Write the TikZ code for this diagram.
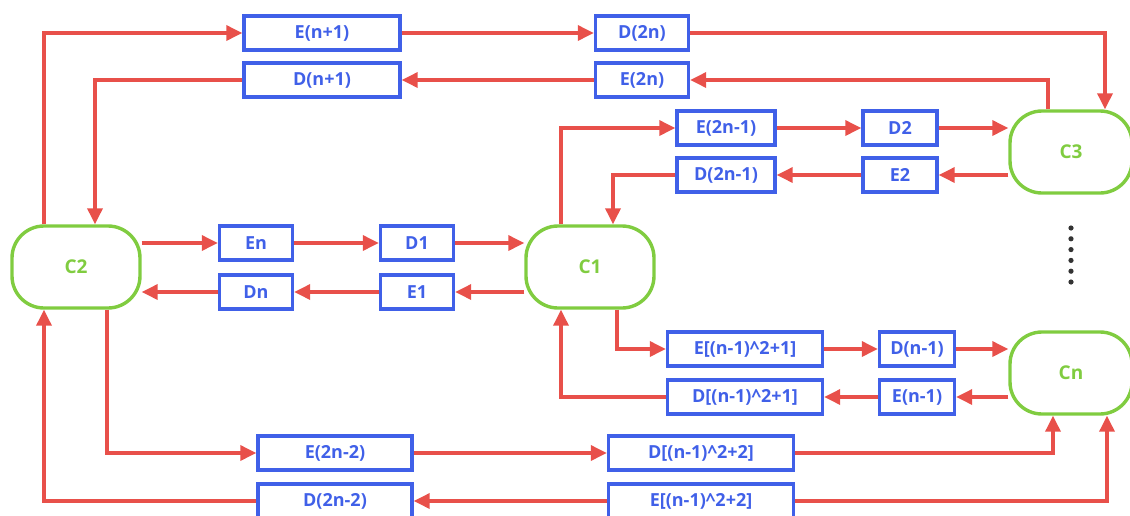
\documentclass[tikz,border=0pt]{standalone}
\usepackage{fontspec}
\setmainfont{Open Sans}
\usetikzlibrary{arrows.meta}
\definecolor{lred}{RGB}{232,80,74}
\definecolor{lblue}{RGB}{64,96,232}
\definecolor{lgreen}{RGB}{128,204,64}
\tikzset{
  bx/.style={draw=lblue, line width=3.4pt, text=lblue, font=\bfseries\fontsize{18}{18}\selectfont, minimum height=34pt, inner sep=0pt},
  cb/.style={draw=lgreen, line width=3.4pt, text=lgreen, font=\bfseries\fontsize{19}{19}\selectfont, rounded corners=32pt, minimum width=128pt, minimum height=82pt, inner sep=0pt},
  ar/.style={draw=lred, line width=3.4pt, -{Triangle[length=16pt,width=15pt]}},
}
\begin{document}
\begin{tikzpicture}[x=1pt,y=-1pt]
\useasboundingbox (0,0) rectangle (1130,515);
% nodes
\node[bx, minimum width=156pt] (Enp) at (322,33) {E(n+1)};
\node[bx, minimum width=156pt] (Dnp) at (322,80) {D(n+1)};
\node[bx, minimum width=93pt] (Dtn) at (642,33) {D(2n)};
\node[bx, minimum width=93pt] (Etn) at (642,80) {E(2n)};
\node[bx, minimum width=98pt] (Etnm) at (726,128) {E(2n-1)};
\node[bx, minimum width=74pt] (Dtwo) at (900,128) {D2};
\node[bx, minimum width=98pt] (Dtnm) at (726,175) {D(2n-1)};
\node[bx, minimum width=74pt] (Etwo) at (900,175) {E2};
\node[cb, minimum width=122pt] (C3) at (1071,152) {C3};
\node[cb] (C2) at (76,267) {C2};
\node[cb] (C1) at (590,267) {C1};
\node[bx, minimum width=73pt] (En) at (256,243) {En};
\node[bx, minimum width=73pt] (Done) at (417,243) {D1};
\node[bx, minimum width=73pt] (Dn) at (256,292) {Dn};
\node[bx, minimum width=73pt] (Eone) at (417,292) {E1};
\node[bx, minimum width=155pt] (Esq) at (745,349) {E[(n-1)\^{}2+1]};
\node[bx, minimum width=75pt] (Dnm) at (917,349) {D(n-1)};
\node[bx, minimum width=155pt] (Dsq) at (745,397) {D[(n-1)\^{}2+1]};
\node[bx, minimum width=75pt] (Enm) at (917,397) {E(n-1)};
\node[cb, minimum width=122pt] (Cn) at (1071,373) {Cn};
\node[bx, minimum width=154pt] (Etnt) at (335,453) {E(2n-2)};
\node[bx, minimum width=185pt] (Dsqt) at (701,453) {D[(n-1)\^{}2+2]};
\node[bx, minimum width=154pt] (Dtnt) at (335,501) {D(2n-2)};
\node[bx, minimum width=185pt] (Esqt) at (701,501) {E[(n-1)\^{}2+2]};
% dots
\foreach \i in {0,...,5} \fill[black!80] (1071,228+\i*10.8) circle (2.6pt);
% connectors top loop
\draw[ar] ([xshift=-32pt]C2.north) |- (Enp.west);
\draw[ar] (Enp.east) -- (Dtn.west);
\draw[ar] (Dtn.east) -| ([xshift=34pt]C3.north);
\draw[ar] ([xshift=-23pt]C3.north) |- (Etn.east);
\draw[ar] (Etn.west) -- (Dnp.east);
\draw[ar] (Dnp.west) -| ([xshift=19pt]C2.north);
% middle
\draw[ar] (En.west -| C2.east) -- (En.west);
\draw[ar] (En.east) -- (Done.west);
\draw[ar] (Done.east) -- (Done.east -| C1.west);
\draw[ar] (Eone.east -| C1.west) -- (Eone.east);
\draw[ar] (Eone.west) -- (Dn.east);
\draw[ar] (Dn.west) -- (Dn.west -| C2.east);
% C1 - C3
\draw[ar] ([xshift=-29pt]C1.north) |- (Etnm.west);
\draw[ar] (Etnm.east) -- (Dtwo.west);
\draw[ar] (Dtwo.east) -- (Dtwo.east -| C3.west);
\draw[ar] (Etwo.east -| C3.west) -- (Etwo.east);
\draw[ar] (Etwo.west) -- (Dtnm.east);
\draw[ar] (Dtnm.west) -| ([xshift=23pt]C1.north);
% C1 - Cn
\draw[ar] ([xshift=27pt]C1.south) |- (Esq.west);
\draw[ar] (Esq.east) -- (Dnm.west);
\draw[ar] (Dnm.east) -- (Dnm.east -| Cn.west);
\draw[ar] (Enm.east -| Cn.west) -- (Enm.east);
\draw[ar] (Enm.west) -- (Dsq.east);
\draw[ar] (Dsq.west) -| ([xshift=-29pt]C1.south);
% C2 - Cn
\draw[ar] ([xshift=31pt]C2.south) |- (Etnt.west);
\draw[ar] (Etnt.east) -- (Dsqt.west);
\draw[ar] (Dsqt.east) -| ([xshift=-18pt]Cn.south);
\draw[ar] (Esqt.east) -| ([xshift=36pt]Cn.south);
\draw[ar] (Esqt.west) -- (Dtnt.east);
\draw[ar] (Dtnt.west) -| ([xshift=-32pt]C2.south);
\end{tikzpicture}
\end{document}
